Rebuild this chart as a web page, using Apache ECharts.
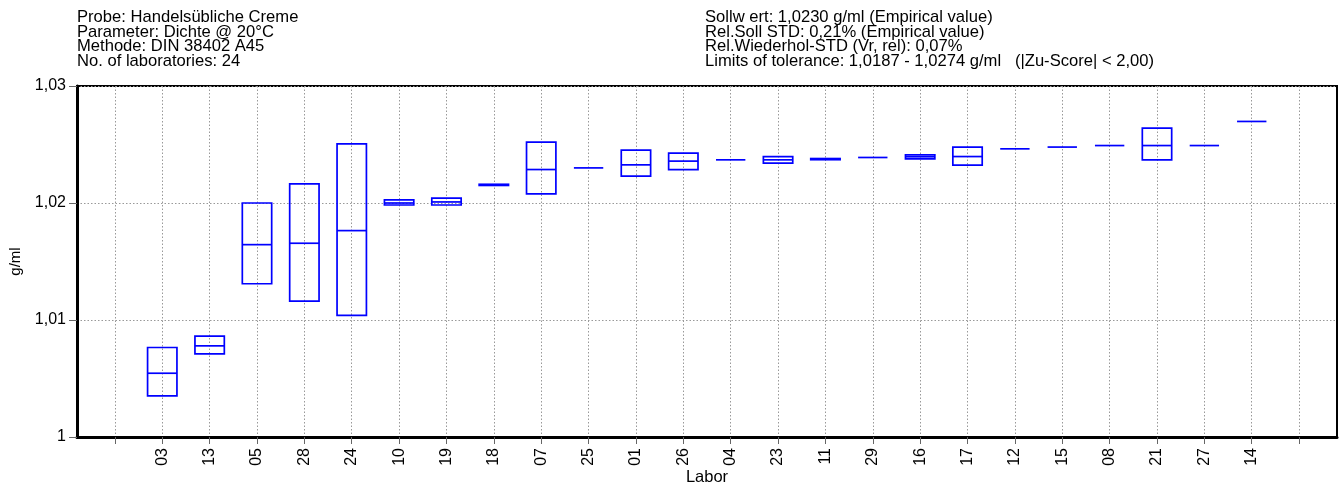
<!DOCTYPE html>
<html>
<head>
<meta charset="utf-8">
<script src="https://cdn.jsdelivr.net/npm/echarts@6/dist/echarts.min.js"></script>
<style>
html,body{margin:0;padding:0;background:#fff;}
#chart{width:1343px;height:486px;}
</style>
</head>
<body>
<div id="chart"></div>
<script>
// Laboratories in plotted order
const labs = ['03','13','05','28','24','10','19','18','07','25','01','26','04','23','11','29','16','17','12','15','08','21','27','14'];
// Lower end of each lab's box (g/ml)
const lowValues = [1.00351,1.00711,1.0131,1.01162,1.01039,1.01983,1.01983,1.0215,1.02078,1.0230,1.02229,1.02286,1.02369,1.02341,1.0237,1.02389,1.02377,1.02324,1.02463,1.02478,1.02491,1.02369,1.02491,1.02697];
// Middle line of each lab's box (g/ml)
const midValues = [1.00545,1.00779,1.01644,1.01656,1.01764,1.0200,1.02009,1.02155,1.02286,1.0230,1.02326,1.02358,1.02369,1.02369,1.02375,1.02389,1.02395,1.02397,1.02463,1.02478,1.02491,1.02491,1.02491,1.02697];
// Upper end of each lab's box (g/ml)
const highValues = [1.00765,1.00862,1.0200,1.02163,1.02506,1.02026,1.02041,1.0216,1.0252,1.0230,1.02452,1.02426,1.02369,1.02397,1.0238,1.02389,1.02412,1.02478,1.02463,1.02478,1.02491,1.0264,1.02491,1.02697];

const headerLeft = ['Probe: Handelsübliche Creme','Parameter: Dichte @ 20°C','Methode: DIN 38402 A45','No. of laboratories: 24'];
const headerRight = ['Sollw ert: 1,0230 g/ml (Empirical value)','Rel.Soll STD: 0,21% (Empirical value)','Rel.Wiederhol-STD (Vr, rel): 0,07%','Limits of tolerance: 1,0187 - 1,0274 g/ml   (|Zu-Score| < 2,00)'];

const slotPositions = [];
for (let i = 0; i <= labs.length + 1; i++) slotPositions.push(i);
const labelPositions = labs.map((_, i) => i + 1);

const boxData = labs.map((l, i) => [i + 1, lowValues[i], midValues[i], highValues[i]]);

const chart = echarts.init(document.getElementById('chart'), null, {renderer: 'canvas'});
const font = 'Liberation Sans, Arial, sans-serif';
const halfW = 0.31;

chart.setOption({
  animation: false,
  backgroundColor: '#fff',
  textStyle: {fontFamily: font},
  title: [
    {text: headerLeft.join('\n'), left: 72, top: 5,
     textStyle: {fontFamily: font, fontSize: 16.6, fontWeight: 'normal', color: '#000', lineHeight: 14.7}},
    {text: headerRight.join('\n'), left: 700, top: 5,
     textStyle: {fontFamily: font, fontSize: 16.6, fontWeight: 'normal', color: '#000', lineHeight: 14.7}}
  ],
  grid: {left: 77, right: 6, top: 86, bottom: 49, outerBoundsMode: 'none', containLabel: false,
         show: true, borderColor: '#000', borderWidth: 2, backgroundColor: 'transparent'},
  xAxis: {
    type: 'value', min: -0.8, max: labs.length + 1.8,
    name: 'Labor', nameLocation: 'middle', nameGap: 32, nameMoveOverlap: false,
    nameTextStyle: {fontFamily: font, fontSize: 16.5, color: '#000'},
    axisLine: {show: true, onZero: false, lineStyle: {color: '#000', width: 3}},
    axisTick: {show: true, length: 7, customValues: slotPositions, lineStyle: {color: '#666', width: 1}},
    axisLabel: {customValues: labelPositions, rotate: 90, margin: 11, fontFamily: font, fontSize: 16, color: '#000',
      formatter: v => labs[Math.round(v) - 1] || ''},
    splitLine: {show: true, lineStyle: {color: '#999', type: [1.5, 2], width: 1}}
  },
  yAxis: {
    type: 'value', min: 1, max: 1.03, interval: 0.01,
    name: 'g/ml', nameLocation: 'middle', nameGap: 54, nameRotate: 90, nameMoveOverlap: false,
    nameTextStyle: {fontFamily: font, fontSize: 15, color: '#000'},
    axisLine: {show: true, onZero: false, lineStyle: {color: '#000', width: 3}},
    axisTick: {show: true, length: 8, lineStyle: {color: '#666', width: 1}},
    axisLabel: {margin: 11, fontFamily: font, fontSize: 16, color: '#000',
      formatter: v => String(+v.toFixed(2)).replace('.', ',')},
    splitLine: {show: true, lineStyle: {color: '#999', type: [1.5, 2], width: 1}}
  },
  series: [{
    type: 'custom',
    data: boxData,
    renderItem: function (params, api) {
      const x = api.value(0), lo = api.value(1), mid = api.value(2), hi = api.value(3);
      const pL = api.coord([x - halfW, lo]);
      const pR = api.coord([x + halfW, hi]);
      const pM = api.coord([x, mid]);
      const style = {stroke: '#0000ff', lineWidth: 1.7, fill: null};
      const children = [];
      if (Math.abs(pL[1] - pR[1]) > 0.8) {
        children.push({type: 'rect', shape: {x: pL[0], y: pR[1], width: pR[0] - pL[0], height: pL[1] - pR[1]}, style: style});
      }
      children.push({type: 'line', shape: {x1: pL[0], y1: pM[1], x2: pR[0], y2: pM[1]}, style: style});
      return {type: 'group', children: children};
    },
    encode: {x: 0, y: [1, 2, 3]},
    z: 5
  }]
});
</script>
</body>
</html>
